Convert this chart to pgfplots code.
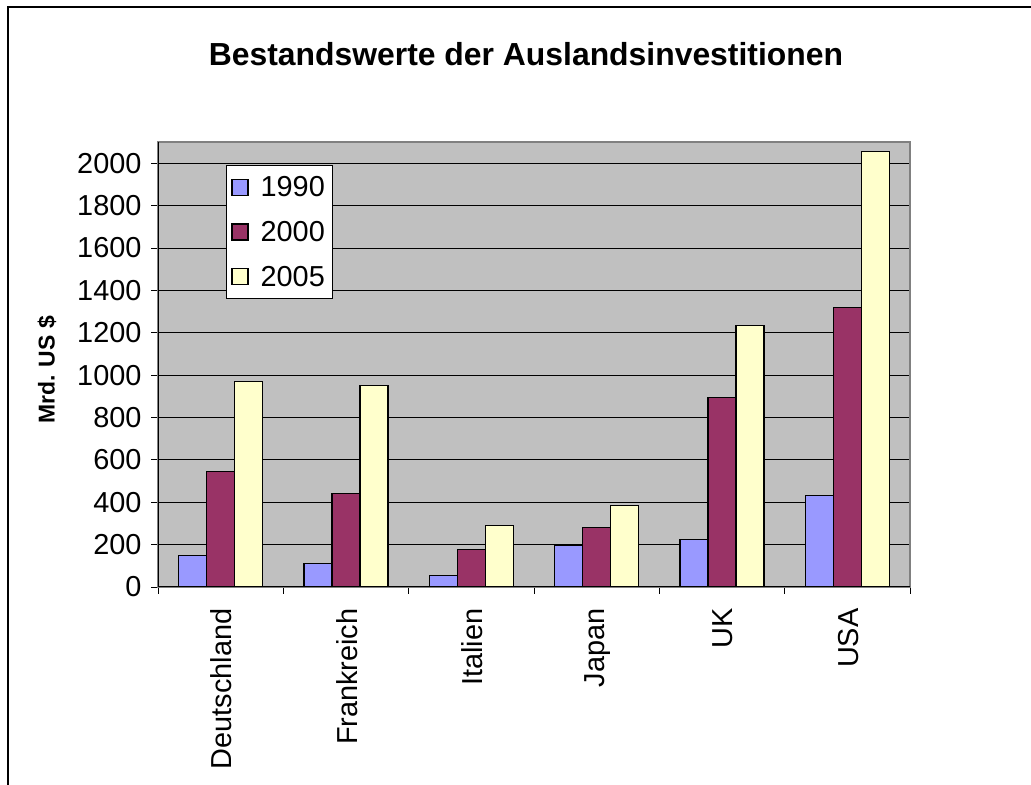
\documentclass[border=0pt]{standalone}
\usepackage{pgfplots}
\pgfplotsset{compat=1.18}
\usepackage{fontspec}
\setmainfont{Liberation Sans}
\definecolor{c1990}{HTML}{9999FF}
\definecolor{c2000}{HTML}{993366}
\definecolor{c2005}{HTML}{FFFFCC}
\definecolor{plotbg}{HTML}{C0C0C0}
\begin{document}
\begin{tikzpicture}[x=1bp,y=1bp]
\useasboundingbox (0,0) rectangle (1031,785);
\draw[line width=1.5bp] (8,0) -- (8,778) -- (1031,778);
\node[anchor=base, font=\fontsize{32}{36}\selectfont\bfseries] at (526,719) {Bestandswerte der Auslandsinvestitionen};
\node[rotate=90, font=\fontsize{23}{26}\selectfont\bfseries] at (47,415) {Mrd. US \$};
\begin{axis}[
  at={(158bp,198bp)}, anchor=south west,
  scale only axis, width=752bp, height=445bp,
  xmin=-0.5, xmax=5.5, ymin=0, ymax=2100,
  axis background/.style={fill=plotbg},
  axis line style={draw=gray, line width=1.2bp},
  ybar=0pt, bar width=28bp,
  xtick={-0.5,0.5,1.5,2.5,3.5,4.5,5.5}, xticklabels={},
  extra x ticks={0,1,2,3,4,5},
  extra x tick labels={Deutschland,Frankreich,Italien,Japan,UK,USA},
  extra x tick style={major tick length=0pt, xticklabel style={rotate=90, anchor=east, font=\fontsize{29}{33}\selectfont, xshift=-18bp, yshift=-1bp}},
  ytick={0,200,...,2000},
  ymajorgrids, grid style={black, line width=0.8bp},
  tick align=outside, major tick length=7bp,
  tick style={black, line width=0.8bp},
  xtick pos=bottom, ytick pos=left,
  /pgf/number format/assume math mode=true,
  /pgf/number format/1000 sep={},
  yticklabel style={font=\fontsize{29}{33}\selectfont, xshift=-6bp},
  legend style={at={(0.0904,0.948)}, anchor=north west, draw=black, line width=0.8bp, fill=white,
    font=\fontsize{29}{33}\selectfont, inner xsep=5bp, inner ysep=9bp, row sep=19bp,
    /tikz/every odd column/.append style={column sep=9bp}},
  legend image code/.code={\draw[#1, draw=black, line width=1.2bp] (0bp,-8bp) rectangle (16bp,8bp);},
  legend style={nodes={inner xsep=3bp}},
]
\draw[black, line width=1bp] (axis cs:-0.5,0) -- (axis cs:-0.5,2100);
\draw[black, line width=1bp] (axis cs:-0.5,0) -- (axis cs:5.5,0);
\addplot[fill=c1990, draw=black, line width=1.2bp] coordinates {(0,148) (1,112) (2,55) (3,195) (4,225) (5,431)};
\addplot[fill=c2000, draw=black, line width=1.2bp] coordinates {(0,546) (1,442) (2,176) (3,282) (4,895) (5,1318)};
\addplot[fill=c2005, draw=black, line width=1.2bp] coordinates {(0,969) (1,952) (2,289) (3,384) (4,1233) (5,2056)};
\legend{1990,2000,2005}
\end{axis}
\end{tikzpicture}
\end{document}
